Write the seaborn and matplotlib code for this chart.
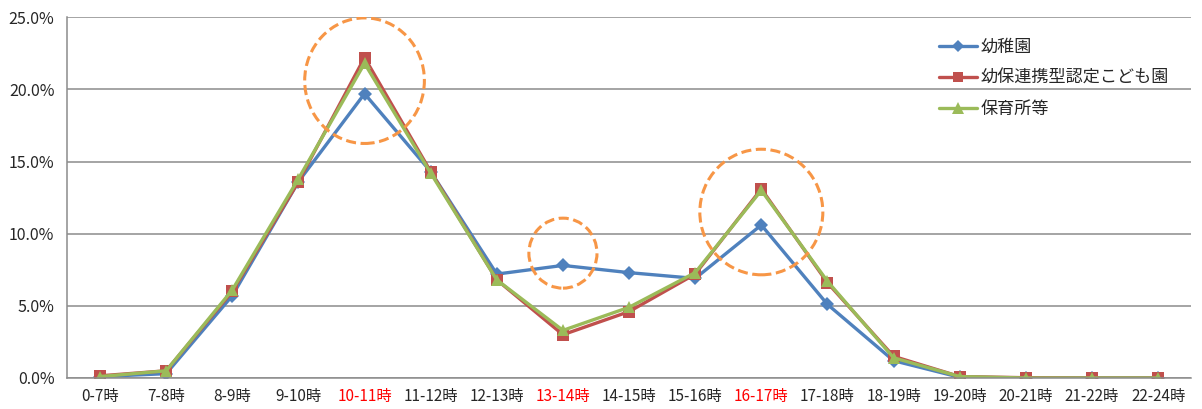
import numpy as np
import pandas as pd
import seaborn as sns
import matplotlib
matplotlib.use('Agg')
import matplotlib.pyplot as plt
from matplotlib.patches import Ellipse
from matplotlib.lines import Line2D

# time slots (x axis)
hours = ['0-7時', '7-8時', '8-9時', '9-10時', '10-11時', '11-12時', '12-13時', '13-14時',
         '14-15時', '15-16時', '16-17時', '17-18時', '18-19時', '19-20時', '20-21時',
         '21-22時', '22-24時']
# share of users per time slot (%)
youchien = [0.1, 0.3, 5.7, 13.6, 19.7, 14.3, 7.2, 7.8, 7.3, 6.9, 10.6, 5.1, 1.2, 0.05, 0.0, 0.0, 0.0]
nintei = [0.15, 0.5, 6.0, 13.6, 22.2, 14.3, 6.8, 3.0, 4.6, 7.2, 13.1, 6.6, 1.5, 0.1, 0.02, 0.0, 0.0]
hoikusho = [0.1, 0.5, 6.1, 13.8, 21.8, 14.2, 6.8, 3.3, 4.9, 7.3, 13.0, 6.7, 1.4, 0.1, 0.0, 0.0, 0.0]
series_names = ['幼稚園', '幼保連携型認定こども園', '保育所等']
red_labels = ['10-11時', '13-14時', '16-17時']

sns.set_style('white')
plt.rcParams['font.family'] = ['Noto Sans CJK JP', 'DejaVu Sans']

rows = []
for name, vals in zip(series_names, [youchien, nintei, hoikusho]):
    for i, v in enumerate(vals):
        rows.append({'idx': i, 'value': v, 'series': name})
df = pd.DataFrame(rows)

colors = {'幼稚園': '#4F81BD', '幼保連携型認定こども園': '#C0504D', '保育所等': '#9BBB59'}
markers = {'幼稚園': 'D', '幼保連携型認定こども園': 's', '保育所等': '^'}
msizes = {'幼稚園': 7, '幼保連携型認定こども園': 8, '保育所等': 9}

fig = plt.figure(figsize=(12.02, 4.09), dpi=100)
ax = fig.add_axes([0.0557, 0.0758, 0.9353, 0.8822])

for name in series_names:
    sub = df[df['series'] == name]
    sns.lineplot(data=sub, x='idx', y='value', color=colors[name], marker=markers[name],
                 markersize=msizes[name], markeredgewidth=0, linewidth=2.4, ax=ax, label=name)

ax.set_xlim(-0.5, len(hours) - 0.5)
ax.set_ylim(0, 25)
ax.set_yticks(np.arange(0, 26, 5))
ax.set_yticklabels([f'{t:.1f}%' for t in np.arange(0, 26, 5)], fontsize=11.5)
ax.yaxis.grid(True, color='#8c8c8c', linewidth=1.1)
ax.set_axisbelow(True)

ax.set_xticks(np.arange(len(hours)))
ax.set_xticklabels(hours, fontsize=11)
ax.set_xticks(np.arange(-0.5, len(hours)), minor=True)
ax.tick_params(axis='x', which='major', length=0, pad=7)
ax.tick_params(axis='x', which='minor', length=5, color='#8c8c8c', direction='out')
ax.tick_params(axis='y', length=5, color='#8c8c8c', direction='out', pad=4)
for lab in ax.get_xticklabels():
    if lab.get_text() in red_labels:
        lab.set_color('red')

for s in ['top', 'right']:
    ax.spines[s].set_visible(False)
for s in ['left', 'bottom']:
    ax.spines[s].set_color('#8c8c8c')
    ax.spines[s].set_linewidth(1.1)
ax.set_xlabel('')
ax.set_ylabel('')

# dashed highlight circles
for cx, cy, w, h in [(4, 20.6, 1.81, 8.7), (7, 8.65, 1.03, 4.85), (10, 11.5, 1.86, 8.7)]:
    ax.add_patch(Ellipse((cx, cy), w, h, fill=False, edgecolor='#F79646',
                         linestyle=(0, (3.3, 1.5)), linewidth=2.2, zorder=5))

handles = [Line2D([], [], color=colors[n], marker=markers[n], markersize=msizes[n] - 1,
                  markeredgewidth=0, linewidth=2.4) for n in series_names]
ax.legend(handles, series_names, loc='upper left', bbox_to_anchor=(0.762, 0.985),
          frameon=False, fontsize=12.3, handlelength=2.2, handletextpad=0.25, labelspacing=0.75)

fig.savefig('out.png', dpi=100)
